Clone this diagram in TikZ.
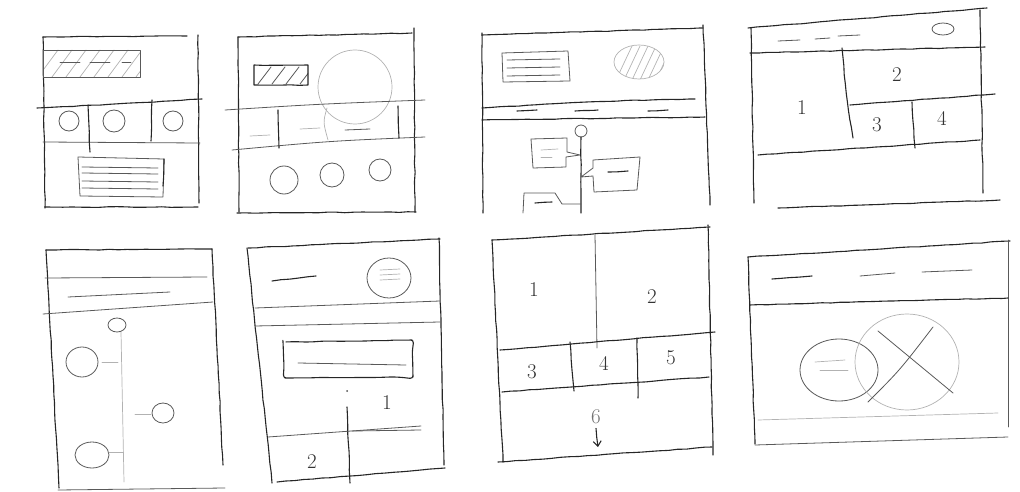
\documentclass[tikz,border=0pt]{standalone}
\usepackage{tikz}
\usetikzlibrary{arrows.meta,decorations.pathmorphing}
\pgfmathsetseed{7}
\begin{document}
\begin{tikzpicture}[x=1pt,y=-1pt,line cap=round,line join=round,
  pencil/.style={draw=black!85,line width=1.1pt,decorate,decoration={random steps,segment length=9pt,amplitude=0.35pt}},
  soft/.style={draw=black!65,line width=0.8pt},
  faint/.style={draw=black!30,line width=0.7pt},
  digit/.style={font=\fontsize{21}{21}\selectfont,text=black!80,inner sep=0pt}]
\useasboundingbox (0,0) rectangle (1020,492);
% sheet 1
\draw[pencil] (43,37) -- (187,36);
\draw[pencil] (43,37) -- (45,208);
\draw[pencil] (198,35) -- (199,203);
\draw[pencil] (45,207) -- (198,207);
\begin{scope}
  \clip (43,50) rectangle (140,77);
  \foreach \x in {38,52,...,140} \draw[faint] (\x,77) -- (\x+20,50);
\end{scope}
\draw[soft] (43,50) rectangle (140,77);
\foreach \a/\b in {60/80,90/110,122/131} \draw[soft] (\a,62) -- (\b,62);
\draw[pencil] (37,108) .. controls (120,104) .. (202,99);
\draw[soft] (43,142) -- (200,143);
\draw[pencil] (88,105) -- (90,152);
\draw[pencil] (152,100) -- (151,141);
\foreach \cx/\r in {69/10,114/11,173/10} \draw[soft] (\cx,121) circle[radius=\r];
\draw[soft] (78,157) -- (164,159) -- (163,197) -- (80,196) -- cycle;
\draw[pencil] (164,159) -- (163,186);
\foreach \y in {167,173,181,188} \draw[soft] (82,\y) -- (158,\y+1);
% sheet 2
\draw[pencil] (238,37) -- (412,33);
\draw[pencil] (238,37) -- (239,212);
\draw[pencil] (414,28) -- (415,212);
\draw[pencil] (237,213) -- (416,212);
\begin{scope}
  \clip (254,65) rectangle (308,85);
  \foreach \x in {258,272,286,300} \draw[soft] (\x,84) -- (\x+13,67);
\end{scope}
\draw[pencil] (254,65) rectangle (308,85);
\draw[faint] (355,87) circle[radius=37];
\draw[soft] (225,110) .. controls (320,104) .. (425,100);
\draw[soft] (232,150) .. controls (330,141) .. (425,137);
\draw[pencil] (278,110) -- (279,148);
\draw[faint] (327,108) .. controls (323,122) .. (328,140);
\draw[pencil] (398,106) -- (399,138);
\draw[faint] (250,136) -- (270,135);
\draw[faint] (300,129) -- (320,128);
\draw[soft] (345,130) -- (370,129);
\foreach \cx/\cy/\r in {284/180/14,332/175/12,380/170/11} \draw[soft] (\cx,\cy) circle[radius=\r];
% sheet 3
\draw[pencil] (482,35) -- (703,28);
\draw[pencil] (482,33) -- (483,213);
\draw[pencil] (703,25) -- (710,205);
\draw[soft] (502,53) -- (568,51) -- (570,81) -- (503,82) -- cycle;
\foreach \y in {60,68,76} \draw[soft] (507,\y) -- (560,\y-1);
\begin{scope}
  \clip (639,62) ellipse[x radius=25,y radius=17];
  \foreach \x in {616,624,...,664} \draw[faint] (\x,80) -- (\x+16,46);
\end{scope}
\draw[faint] (639,62) ellipse[x radius=25,y radius=17];
\draw[pencil] (482,108) .. controls (600,101) .. (695,99);
\foreach \a/\b in {517/537,575/598,648/668} \draw[pencil] (\a,111) -- (\b,110);
\draw[pencil] (482,120) -- (705,117);
\draw[soft] (581,131) circle[radius=6];
\draw[pencil] (581,137) -- (581,213);
\draw[soft] (531,139) -- (567,138) -- (567,152) -- (580,155) -- (566,157) -- (566,167) -- (533,168) -- cycle;
\draw[faint] (541,150) -- (558,149);
\draw[faint] (541,157) -- (552,157);
\draw[soft] (593,160) -- (593,168) -- (581,177) -- (593,176) -- (594,192) -- (637,190) -- (640,157) -- cycle;
\draw[pencil] (608,172) -- (628,171);
\draw[soft] (523,213) -- (524,193) -- (555,193) -- (562,204) -- (581,204);
\draw[pencil] (535,203) -- (552,202);
% sheet 4
\draw[pencil] (748,28) -- (987,8);
\draw[pencil] (751,28) -- (754,203);
\draw[pencil] (980,10) -- (983,193);
\draw[pencil] (778,208) -- (1000,200);
\draw[soft] (778,41) -- (800,40);
\draw[soft] (815,39) -- (830,38);
\draw[soft] (838,36) -- (860,35);
\draw[soft] (943,29) ellipse[x radius=11,y radius=6];
\draw[pencil] (750,53) -- (985,47);
\draw[pencil] (842,48) .. controls (846,95) .. (853,138);
\draw[pencil] (850,105) -- (995,94);
\draw[pencil] (912,102) -- (915,148);
\draw[pencil] (758,155) -- (980,140);
\node[digit] (p4one) at (802,108) {1};
\node[digit] (p4two) at (897,75) {2};
\node[digit] (p4three) at (877,125) {3};
\node[digit] (p4four) at (942,118) {4};
% sheet 5
\draw[pencil] (46,250) -- (212,249);
\draw[pencil] (46,250) -- (59,488);
\draw[pencil] (212,249) -- (223,465);
\draw[soft] (58,490) -- (225,488);
\draw[soft] (45,278) -- (207,277);
\draw[soft] (68,297) -- (170,292);
\draw[soft] (43,314) -- (213,302);
\draw[soft] (117,325) ellipse[x radius=9,y radius=7];
\draw[faint] (121,332) -- (124,482);
\draw[soft] (82,362) ellipse[x radius=16,y radius=15];
\draw[faint] (102,362) -- (118,362);
\draw[soft] (163,413) ellipse[x radius=11,y radius=10];
\draw[faint] (135,414) -- (151,414);
\draw[soft] (92,455) ellipse[x radius=17,y radius=13];
\draw[faint] (109,452) -- (123,452);
% sheet 6
\draw[pencil] (248,248) -- (440,239);
\draw[pencil] (247,248) -- (272,483);
\draw[pencil] (439,238) -- (444,465);
\draw[pencil] (277,482) -- (445,468);
\draw[pencil] (272,281) -- (316,276);
\draw[soft] (389,278) ellipse[x radius=22,y radius=20];
\foreach \y in {270,275,280} \draw[faint] (380,\y) -- (400,\y-1);
\draw[soft] (255,308) -- (440,301);
\draw[soft] (255,326) -- (440,322);
\draw[pencil,rounded corners=3] (283,342) -- (412,340) -- (413,377) -- (285,378) -- cycle;
\draw[soft] (298,363) -- (406,365);
\draw[pencil] (347,407) -- (350,483);
\fill[black!70] (347,391) circle[radius=1];
\node[digit] (p6one) at (387,403) {1};
\node[digit] (p6two) at (312,462) {2};
\draw[soft] (268,437) -- (421,426);
\draw[soft] (352,431) -- (421,430);
% sheet 7
\draw[pencil] (492,240) -- (710,227);
\draw[pencil] (492,240) -- (503,462);
\draw[pencil] (708,225) -- (713,455);
\draw[soft] (595,235) -- (597,348);
\draw[pencil] (500,350) -- (715,332);
\draw[pencil] (502,392) -- (709,377);
\draw[pencil] (570,342) -- (574,391);
\draw[pencil] (637,338) -- (638,398);
\draw[pencil] (498,462) -- (712,447);
\node[digit] (p7one) at (534,290) {1};
\node[digit] (p7two) at (652,297) {2};
\node[digit] (p7three) at (532,372) {3};
\node[digit] (p7four) at (604,363) {4};
\node[digit] (p7five) at (671,358) {5};
\node[digit,text=black!55] (p7six) at (596,417) {6};
\coordinate (p7down) at (598,447);
\draw[pencil,-{Straight Barb[length=5pt,width=8pt]}] ([yshift=-4pt]p7six.south) -- (p7down);
% sheet 8
\draw[pencil] (748,257) -- (1010,241);
\draw[pencil] (748,257) -- (755,444);
\draw[soft] (1008,240) -- (1008,427);
\draw[soft] (755,445) -- (1008,437);
\draw[pencil] (772,279) -- (812,276);
\draw[soft] (860,276) -- (895,273);
\draw[soft] (922,272) -- (972,270);
\draw[pencil] (750,305) -- (1008,298);
\draw[soft] (839,370) ellipse[x radius=39,y radius=31];
\draw[faint] (907,362) ellipse[x radius=52,y radius=48];
\draw[faint] (815,362) -- (845,360);
\draw[faint] (820,370) -- (848,370);
\draw[soft] (878,331) -- (953,393);
\draw[soft] (933,327) .. controls (900,370) .. (868,402);
\draw[faint] (758,420) -- (998,413);
\end{tikzpicture}
\end{document}
